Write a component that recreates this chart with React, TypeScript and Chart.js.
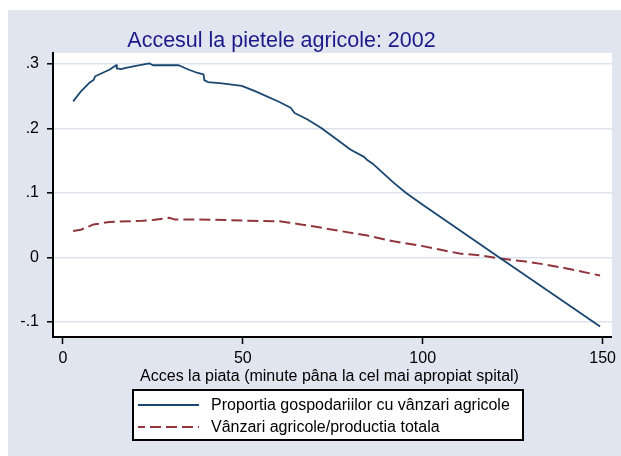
import React, { useEffect, useRef } from "react";
import { Chart, registerables } from "chart.js";

Chart.register(...registerables);

const TITLE = "Accesul la pietele agricole: 2002";
const X_TITLE = "Acces la piata (minute pâna la cel mai apropiat spital)";
const SERIES_NAMES = [
  "Proportia gospodariilor cu vânzari agricole",
  "Vânzari agricole/productia totala",
];
const X_TICKS = [0, 50, 100, 150];
const Y_TICKS = [-0.1, 0, 0.1, 0.2, 0.3];
const Y_TICK_LABELS = ["-.1", "0", ".1", ".2", ".3"];

const blueX = [
  2.85, 5.1, 7.4, 8.5, 9.0, 12.9, 14.8, 15.0, 16.2, 17.5, 20.3, 24, 25, 32.2,
  35, 37.5, 39.1, 39.3, 40.3, 44.2, 49.7, 53.4, 60.2, 63.3, 64.4, 68, 71.7,
  75.4, 80, 83.7, 84.6, 86.4, 91.9, 95.4, 99.7, 121.3, 149.3,
];
const blueY = [
  0.242, 0.258, 0.271, 0.275, 0.281, 0.291, 0.298, 0.293, 0.292, 0.294, 0.297,
  0.301, 0.298, 0.298, 0.291, 0.286, 0.284, 0.275, 0.272, 0.27, 0.266, 0.258,
  0.241, 0.232, 0.224, 0.214, 0.201, 0.186, 0.167, 0.156, 0.151, 0.144, 0.116,
  0.1, 0.083, 0.0, -0.107,
];

const redX = [
  2.85, 5, 8.4, 12.9, 22.1, 25, 29.5, 31, 37.7, 45, 51.5, 60.2, 63, 66.2, 69.9,
  75, 84.6, 91.9, 99.7, 105, 110.3, 115, 121.3, 128, 134.2, 140, 149.3,
];
const redY = [
  0.041, 0.043, 0.051, 0.055, 0.057, 0.058, 0.0615, 0.059, 0.059, 0.058, 0.057,
  0.056, 0.054, 0.051, 0.048, 0.043, 0.034, 0.025, 0.018, 0.012, 0.006, 0.004,
  -0.0015, -0.006, -0.011, -0.017, -0.028,
];

const BLUE = "#1a476f";
const RED = "#90353b";
const BG = "#e0e5ef";
const GRID = "#dde3ee";
const FONT = "'Liberation Sans', Arial, sans-serif";

export default function App() {
  const ref = useRef<HTMLCanvasElement | null>(null);

  useEffect(() => {
    if (!ref.current) return;

    const decor = {
      id: "decor",
      beforeDraw(chart: any) {
        const { ctx, chartArea, width, height } = chart;
        ctx.save();
        ctx.fillStyle = BG;
        ctx.fillRect(0, 0, width, height);
        ctx.fillStyle = "#1a1a8a";
        ctx.font = `21.5px ${FONT}`;
        ctx.textAlign = "center";
        ctx.textBaseline = "alphabetic";
        ctx.fillText(TITLE, 273.5, 37);
        ctx.fillStyle = "#ffffff";
        ctx.fillRect(
          chartArea.left,
          chartArea.top,
          chartArea.right - chartArea.left,
          chartArea.bottom - chartArea.top
        );
        ctx.restore();
      },
      afterDraw(chart: any) {
        const { ctx } = chart;
        ctx.save();
        ctx.fillStyle = "#000";
        ctx.font = `16px ${FONT}`;
        ctx.textAlign = "center";
        ctx.textBaseline = "alphabetic";
        ctx.fillText(X_TITLE, 321.5, 370.5);

        // legend box
        ctx.fillStyle = "#ffffff";
        ctx.fillRect(125, 380, 390, 50);
        ctx.strokeStyle = "#000";
        ctx.lineWidth = 2;
        ctx.strokeRect(125, 380, 390, 50);

        const rows = [395, 417];
        const colors = [BLUE, RED];
        rows.forEach((yy, i) => {
          ctx.beginPath();
          ctx.strokeStyle = colors[i];
          ctx.lineWidth = 2;
          if (i === 1) {
            ctx.setLineDash([11, 5]);
            ctx.lineDashOffset = 4;
          } else {
            ctx.setLineDash([]);
          }
          ctx.moveTo(130, yy);
          ctx.lineTo(191, yy);
          ctx.stroke();
          ctx.setLineDash([]);
          ctx.fillStyle = "#000";
          ctx.font = `16px ${FONT}`;
          ctx.textAlign = "left";
          ctx.textBaseline = "middle";
          ctx.fillText(SERIES_NAMES[i], 203, yy + 1);
        });
        ctx.restore();
      },
    };

    const chart = new Chart(ref.current, {
      type: "line",
      data: {
        datasets: [
          {
            label: SERIES_NAMES[0],
            data: blueX.map((x, i) => ({ x, y: blueY[i] })),
            borderColor: BLUE,
            borderWidth: 1.8,
            borderJoinStyle: "round",
            pointRadius: 0,
            tension: 0,
            fill: false,
          },
          {
            label: SERIES_NAMES[1],
            data: redX.map((x, i) => ({ x, y: redY[i] })),
            borderColor: RED,
            borderWidth: 2,
            borderDash: [11, 5],
            borderJoinStyle: "round",
            pointRadius: 0,
            tension: 0,
            fill: false,
          },
        ],
      },
      options: {
        animation: false,
        responsive: false,
        devicePixelRatio: 1,
        layout: { padding: { top: 43, right: 4, left: 0, bottom: 0 } },
        plugins: {
          legend: { display: false },
          title: { display: false },
          tooltip: { enabled: false },
        },
        scales: {
          x: {
            type: "linear",
            min: -2.75,
            max: 152.6,
            afterBuildTicks: (s: any) => {
              s.ticks = X_TICKS.map((v) => ({ value: v }));
            },
            afterFit: (s: any) => {
              s.height = 119;
            },
            ticks: {
              color: "#000",
              font: { family: FONT, size: 16 },
              padding: 5,
              maxRotation: 0,
              autoSkip: false,
              callback: (v: any) => String(v),
            },
            grid: {
              drawOnChartArea: false,
              drawTicks: true,
              tickLength: 7,
              tickColor: "#000",
              tickWidth: 1.5,
            },
            border: { color: "#000", width: 2 },
          },
          y: {
            type: "linear",
            min: -0.1233,
            max: 0.317,
            afterBuildTicks: (s: any) => {
              s.ticks = Y_TICKS.map((v) => ({ value: v }));
            },
            afterFit: (s: any) => {
              s.width = 45;
            },
            ticks: {
              color: "#000",
              font: { family: FONT, size: 16 },
              padding: 8,
              autoSkip: false,
              callback: (v: any) => {
                const idx = Y_TICKS.findIndex((t) => Math.abs(t - v) < 1e-9);
                return idx >= 0 ? Y_TICK_LABELS[idx] : "";
              },
            },
            grid: {
              color: GRID,
              lineWidth: 1.6,
              drawTicks: true,
              tickLength: 6,
              tickColor: "#000",
              tickWidth: 1.5,
            },
            border: { color: "#000", width: 2 },
          },
        },
      },
      plugins: [decor],
    } as any);

    return () => chart.destroy();
  }, []);

  return (
    <div
      style={{
        position: "absolute",
        left: 8,
        top: 10,
        width: 613,
        height: 446,
      }}
    >
      <canvas ref={ref} width={613} height={446} />
    </div>
  );
}
